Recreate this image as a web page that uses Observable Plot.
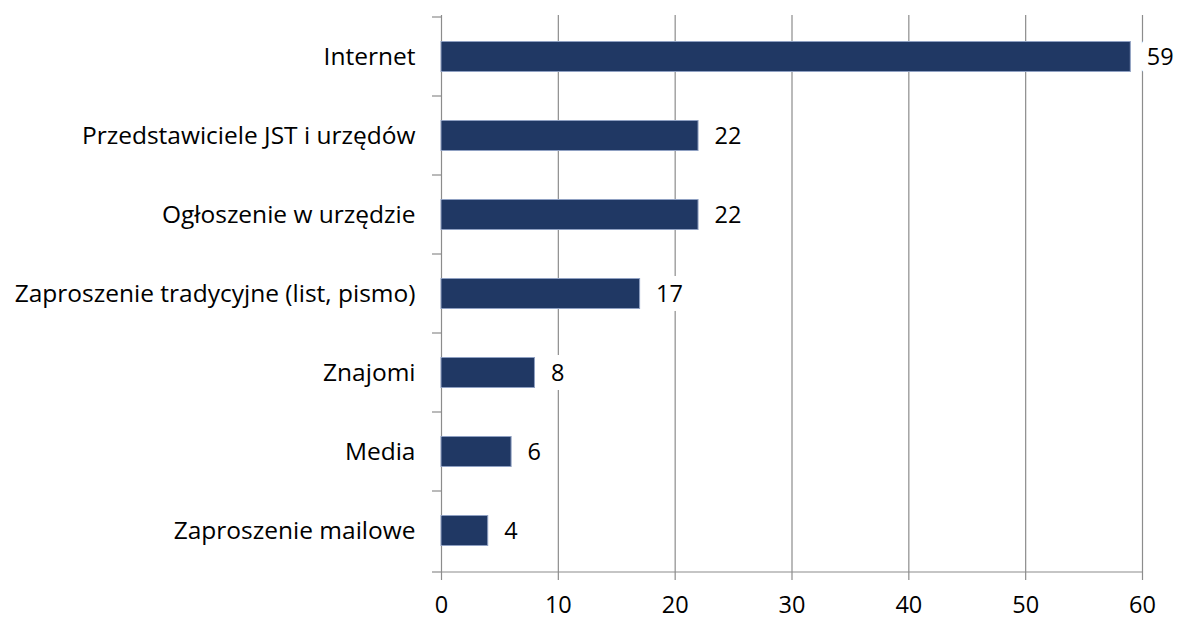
<!DOCTYPE html>
<html>
<head>
<meta charset="utf-8">
<script src="https://cdn.jsdelivr.net/npm/d3@7"></script>
<script src="https://cdn.jsdelivr.net/npm/@observablehq/plot@0.6"></script>
<style>
  html, body { margin: 0; padding: 0; background: #fff; }
  #chart svg { display: block; }
</style>
</head>
<body>
<div id="chart"></div>
<script>
const categories = [
  "Internet",
  "Przedstawiciele JST i urzędów",
  "Ogłoszenie w urzędzie",
  "Zaproszenie tradycyjne (list, pismo)",
  "Znajomi",
  "Media",
  "Zaproszenie mailowe"
];
const values = [59, 22, 22, 17, 8, 6, 4];
const xTicks = [0, 10, 20, 30, 40, 50, 60];

const data = categories.map((c, i) => ({category: c, value: values[i]}));

const W = 1179, H = 619;
const FONT = "'Open Sans', sans-serif";
const FS = 24;
const gridColor = "#8c8c8c";

// left-axis tick marks at band boundaries and bottom baseline
function frameMarks(index, scales, values, dims) {
  const g = d3.create("svg:g");
  const y = scales.y;
  const x0 = dims.marginLeft;
  const x1 = dims.width - dims.marginRight;
  const yb = dims.height - dims.marginBottom;
  const bounds = categories.map(c => y(c)).concat([yb]);
  for (const b of bounds) {
    g.append("line").attr("x1", x0 - 9).attr("x2", x0).attr("y1", b).attr("y2", b)
      .attr("stroke", gridColor).attr("stroke-width", 1.2);
  }
  g.append("line").attr("x1", x0).attr("x2", x1).attr("y1", yb).attr("y2", yb)
    .attr("stroke", gridColor).attr("stroke-width", 1.2);
  return g.node();
}

const chart = Plot.plot({
  width: W,
  height: H,
  marginLeft: 441,
  marginRight: 37,
  marginTop: 15,
  marginBottom: 47,
  style: {fontFamily: FONT, fontSize: FS + "px", color: "#000", background: "#fff"},
  x: {domain: [0, 60], ticks: xTicks},
  y: {domain: categories, padding: 0},
  marks: [
    Plot.ruleX(xTicks.filter(d => d > 0), {stroke: gridColor, strokeWidth: 1.2, strokeOpacity: 1}),
    Plot.ruleX([0], {stroke: gridColor, strokeWidth: 1.2, strokeOpacity: 1}),
    Plot.axisX({ticks: xTicks, tickSize: 8, tickPadding: 16, stroke: gridColor, strokeWidth: 1.2, label: null, fontSize: 23.5, fill: "#000"}),
    Plot.axisY({tickSize: 0, tickPadding: 26, label: null, fontSize: 24.5, fill: "#000"}),
    frameMarks,
    Plot.barX(data, {
      x: "value", y: "category",
      fill: "#203864", stroke: "#8fa0c2", strokeWidth: 1,
      insetTop: 24.5, insetBottom: 24.5
    }),
    Plot.text(data, {
      x: "value", y: "category", text: d => String(d.value),
      textAnchor: "start", dx: 16, fontSize: 23.5, fill: "#000",
      stroke: "white", strokeWidth: 18, strokeLinejoin: "round", paintOrder: "stroke"
    })
  ]
});

document.getElementById("chart").appendChild(chart);
</script>
</body>
</html>
